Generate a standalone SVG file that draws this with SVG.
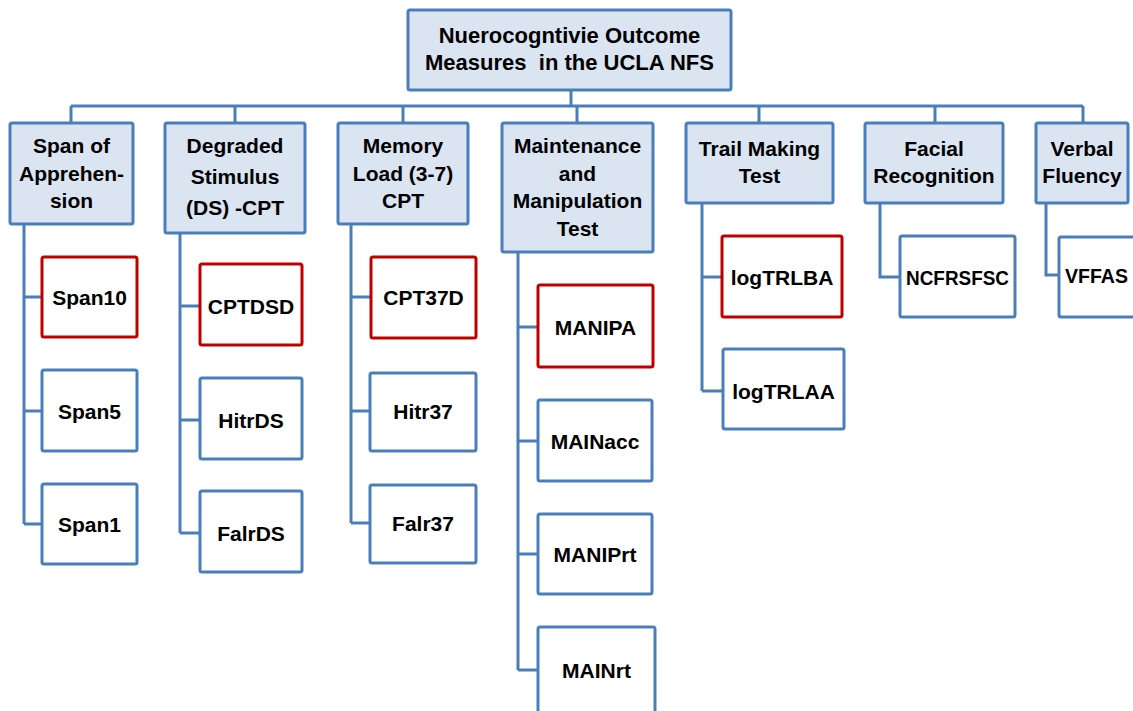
<svg xmlns="http://www.w3.org/2000/svg" width="1133" height="711" viewBox="0 0 1133 711">
<style>
.cat{fill:#dbe5f1;stroke:#4a7ebb;stroke-width:3}
.leaf{fill:#ffffff;stroke:#4a7ebb;stroke-width:3}
.hl{fill:#ffffff;stroke:#c00000;stroke-width:3}
.t{font-family:"Liberation Sans",Arial,sans-serif;font-weight:bold;font-size:21px;fill:#000000;text-anchor:middle}
.big{font-size:22px}
#connectors path{fill:none;stroke:#4a7ebb;stroke-width:3;stroke-linejoin:miter}
</style>
<rect width="1133" height="711" fill="#ffffff"/>
<g id="connectors">
<path d="M571 90V106M71 106H1083M71 106V123M235 106V123M403 106V123M577 106V123M759 106V123M935 106V123M1083 106V123"/>
<path d="M24 224V524M24 297H42M24 411H42M24 524H42"/>
<path d="M180 233V533M180 306H200M180 420H200M180 533H200"/>
<path d="M351 224V523M351 297H371M351 411H370M351 523H370"/>
<path d="M518 252V670M518 327H538M518 441H538M518 554H538M518 670H538"/>
<path d="M702 203V391M702 277H722M702 391H723"/>
<path d="M880 203V277H900"/>
<path d="M1046 203V275H1059"/>
</g>
<g id="root"><rect class="cat" x="408" y="10" width="323" height="80" rx="2"/><text class="t big" x="569.5" y="43">Nuerocogntivie Outcome</text><text class="t big" x="569.5" y="70" xml:space="preserve">Measures  in the UCLA NFS</text></g>
<g id="span"><rect class="cat" x="10" y="123" width="123" height="101" rx="2"/><text class="t" x="71.5" y="153">Span of</text><text class="t" x="71.5" y="181">Apprehen-</text><text class="t" x="71.5" y="208">sion</text></g>
<g id="degraded"><rect class="cat" x="165" y="123" width="140" height="110" rx="2"/><text class="t" x="235" y="153">Degraded</text><text class="t" x="235" y="184">Stimulus</text><text class="t" x="235" y="215">(DS) -CPT</text></g>
<g id="memory"><rect class="cat" x="338" y="123" width="130" height="101" rx="2"/><text class="t" x="403" y="153">Memory</text><text class="t" x="403" y="181">Load (3-7)</text><text class="t" x="403" y="208">CPT</text></g>
<g id="maint"><rect class="cat" x="502" y="123" width="151" height="129" rx="2"/><text class="t" x="577.5" y="153">Maintenance</text><text class="t" x="577.5" y="181">and</text><text class="t" x="577.5" y="208">Manipulation</text><text class="t" x="577.5" y="236">Test</text></g>
<g id="trail"><rect class="cat" x="686" y="123" width="147" height="80" rx="2"/><text class="t" x="759.5" y="156">Trail Making</text><text class="t" x="759.5" y="183">Test</text></g>
<g id="facial"><rect class="cat" x="865" y="123" width="138" height="80" rx="2"/><text class="t" x="934" y="156">Facial</text><text class="t" x="934" y="183">Recognition</text></g>
<g id="verbal"><rect class="cat" x="1036" y="123" width="92" height="80" rx="2"/><text class="t" x="1082" y="156">Verbal</text><text class="t" x="1082" y="183">Fluency</text></g>
<g id="span10"><rect class="hl" x="42" y="257" width="95" height="80" rx="2"/><text class="t" x="89.5" y="304.5">Span10</text></g>
<g id="span5"><rect class="leaf" x="42" y="370" width="95" height="81" rx="2"/><text class="t" x="89.5" y="418.5">Span5</text></g>
<g id="span1"><rect class="leaf" x="42" y="484" width="95" height="80" rx="2"/><text class="t" x="89.5" y="531.5">Span1</text></g>
<g id="cptdsd"><rect class="hl" x="200" y="264" width="102" height="81" rx="2"/><text class="t" x="251" y="313.5">CPTDSD</text></g>
<g id="hitrds"><rect class="leaf" x="200" y="378" width="102" height="81" rx="2"/><text class="t" x="251" y="427.5">HitrDS</text></g>
<g id="falrds"><rect class="leaf" x="200" y="491" width="102" height="81" rx="2"/><text class="t" x="251" y="540.5">FalrDS</text></g>
<g id="cpt37d"><rect class="hl" x="371" y="257" width="105" height="81" rx="2"/><text class="t" x="423.5" y="304.5">CPT37D</text></g>
<g id="hitr37"><rect class="leaf" x="370" y="373" width="106" height="78" rx="2"/><text class="t" x="423" y="418.5">Hitr37</text></g>
<g id="falr37"><rect class="leaf" x="370" y="485" width="106" height="78" rx="2"/><text class="t" x="423" y="530.5">Falr37</text></g>
<g id="manipa"><rect class="hl" x="538" y="285" width="115" height="82" rx="2"/><text class="t" x="595.5" y="334.5">MANIPA</text></g>
<g id="mainacc"><rect class="leaf" x="538" y="400" width="114" height="81" rx="2"/><text class="t" x="595" y="448.5">MAINacc</text></g>
<g id="maniprt"><rect class="leaf" x="538" y="514" width="114" height="80" rx="2"/><text class="t" x="595" y="561.5">MANIPrt</text></g>
<g id="mainrt"><rect class="leaf" x="538" y="627" width="117" height="86" rx="2"/><text class="t" x="596.5" y="677.5">MAINrt</text></g>
<g id="logtrlba"><rect class="hl" x="722" y="236" width="120" height="81" rx="2"/><text class="t" x="782" y="284.5">logTRLBA</text></g>
<g id="logtrlaa"><rect class="leaf" x="723" y="349" width="121" height="80" rx="2"/><text class="t" x="783.5" y="398.5">logTRLAA</text></g>
<g id="ncfrsfsc"><rect class="leaf" x="900" y="236" width="115" height="81" rx="2"/><text class="t" x="957.5" y="284.5" textLength="103" lengthAdjust="spacingAndGlyphs">NCFRSFSC</text></g>
<g id="vffas"><rect class="leaf" x="1059" y="237" width="100" height="80" rx="2"/><text class="t" x="1065" y="282.5" style="text-anchor:start" textLength="63" lengthAdjust="spacingAndGlyphs">VFFAS</text></g>
</svg>
